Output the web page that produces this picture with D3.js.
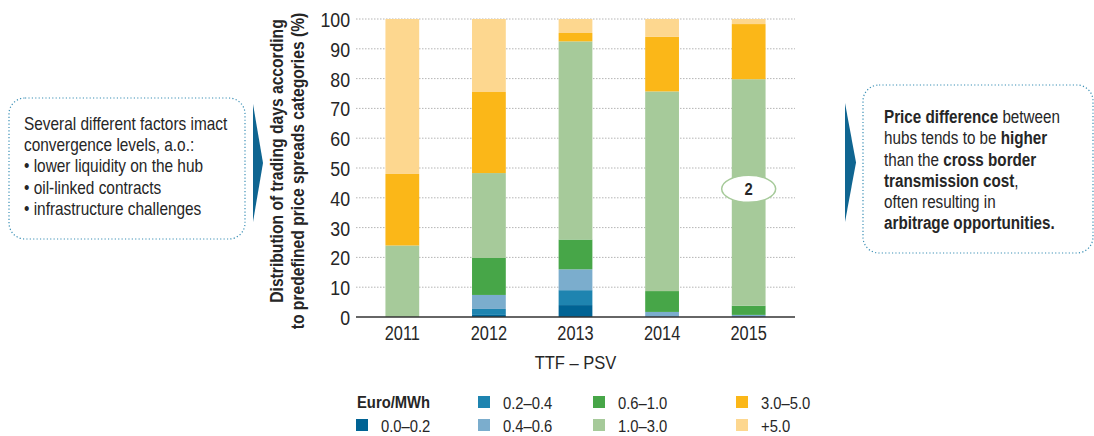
<!DOCTYPE html>
<html>
<head>
<meta charset="utf-8">
<script src="https://cdn.jsdelivr.net/npm/d3@7"></script>
<style>
  html, body { margin: 0; padding: 0; background: #fff; }
  svg { display: block; font-family: "Liberation Sans", Arial, sans-serif; }
</style>
</head>
<body>
<svg id="chart" width="1094" height="436"></svg>
<script>
// Years along the x axis
const years = ["2011", "2012", "2013", "2014", "2015"];
// Price-spread categories (Euro/MWh), bottom to top of each stack
const categories = ["0.0–0.2", "0.2–0.4", "0.4–0.6", "0.6–1.0", "1.0–3.0", "3.0–5.0", "+5.0"];
// Share of trading days (%) per category, one value per year
const share00to02 = [0, 0.7, 4.0, 0, 0];
const share02to04 = [0, 2.0, 5.0, 0, 0];
const share04to06 = [0, 4.7, 7.0, 1.7, 0.7];
const share06to10 = [0, 12.4, 10.0, 7.0, 3.1];
const share10to30 = [24, 28.5, 66.5, 67.0, 76.0];
const share30to50 = [24, 27.2, 2.8, 18.3, 18.5];
const shareAbove5 = [52, 24.5, 4.7, 6.0, 1.7];
const yTicks = [0, 10, 20, 30, 40, 50, 60, 70, 80, 90, 100];
const colors = ["#006394", "#1e84b0", "#7badcd", "#47a648", "#a6ca9a", "#fbb718", "#fdd78f"];

const seriesValues = [share00to02, share02to04, share04to06, share06to10, share10to30, share30to50, shareAbove5];
const rows = years.map((yr, i) => {
  const r = { year: yr };
  categories.forEach((c, k) => { r[c] = seriesValues[k][i]; });
  return r;
});

const svg = d3.select("#chart");
const textColor = "#262626";
// Condensed look: horizontal squeeze applied to every label
const SX = 0.87;

// Place a text element at (x, y) with a horizontal squeeze
function place(sel, x, y, rot) {
  return sel.attr("transform", `translate(${x},${y})${rot ? ` rotate(${rot})` : ""} scale(${SX},1)`);
}

const x = d3.scaleBand().domain(years).range([356, 795]).paddingInner(0.61).paddingOuter(0.34);
const y = d3.scaleLinear().domain([0, 100]).range([317, 19]);

// Dotted gridlines
svg.append("g")
  .selectAll("line")
  .data(yTicks.filter(t => t > 0))
  .join("line")
  .attr("x1", 356).attr("x2", 795)
  .attr("y1", d => y(d)).attr("y2", d => y(d))
  .attr("stroke", "#b5b5b5")
  .attr("stroke-width", 1)
  .attr("stroke-dasharray", "1.5,1.5");

// Stacked bars
const stacked = d3.stack().keys(categories)(rows);
svg.append("g")
  .selectAll("g")
  .data(stacked)
  .join("g")
  .attr("fill", (d, i) => colors[i])
  .selectAll("rect")
  .data(d => d)
  .join("rect")
  .attr("x", d => x(d.data.year))
  .attr("width", x.bandwidth())
  .attr("y", d => y(d[1]))
  .attr("height", d => y(d[0]) - y(d[1]));

// Y axis tick labels
const yAxis = d3.axisLeft(y).tickValues(yTicks).tickSize(0).tickPadding(0);
const gy = svg.append("g").attr("transform", "translate(350,0)").call(yAxis);
gy.attr("font-family", null);
gy.select(".domain").remove();
gy.selectAll("text")
  .attr("font-size", 19.5)
  .attr("fill", textColor)
  .attr("dy", "0.38em")
  .attr("transform", `scale(${SX + 0.04},1)`);

// X axis baseline and year labels
const xAxis = d3.axisBottom(x).tickSize(0).tickPadding(9);
const gx = svg.append("g").attr("transform", "translate(0,317)").call(xAxis);
gx.attr("font-family", null);
gx.select(".domain").attr("stroke", "#333").attr("stroke-width", 1.5).attr("d", "M356,0H795");
gx.selectAll("text")
  .attr("font-size", 19.5)
  .attr("fill", textColor)
  .attr("transform", `scale(${SX - 0.03},1)`);

// X axis title
place(svg.append("text"), (356 + 795) / 2, 369)
  .attr("text-anchor", "middle")
  .attr("font-size", 19)
  .attr("fill", textColor)
  .text("TTF – PSV");

// Y axis title (two lines)
const yTitle = ["Distribution of trading days according", "to predefined price spreads categories (%)"];
svg.append("g")
  .selectAll("text")
  .data(yTitle)
  .join("text")
  .each(function (d, i) { place(d3.select(this), 283 + i * 21, i === 0 ? 161 : 171, -90); })
  .attr("text-anchor", "middle")
  .attr("font-size", 18)
  .attr("font-weight", "bold")
  .attr("fill", textColor)
  .text(d => d);

// Callout marker on the 2015 bar
const markerValue = 43;
const mx = x("2015") + x.bandwidth() / 2;
svg.append("ellipse")
  .attr("cx", mx).attr("cy", y(markerValue))
  .attr("rx", 27).attr("ry", 13.5)
  .attr("fill", "#fff")
  .attr("stroke", "#a6ca9a")
  .attr("stroke-width", 1.5);
place(svg.append("text"), mx, y(markerValue) + 6)
  .attr("text-anchor", "middle")
  .attr("font-size", 17)
  .attr("font-weight", "bold")
  .attr("fill", textColor)
  .text("2");

// Legend
const legend = svg.append("g").attr("font-size", 17).attr("fill", textColor);
place(legend.append("text"), 357, 408)
  .attr("font-weight", "bold")
  .text("Euro/MWh");
const legendSlots = [
  { col: 0, row: 1 }, { col: 1, row: 0 }, { col: 1, row: 1 },
  { col: 2, row: 0 }, { col: 2, row: 1 }, { col: 3, row: 0 }, { col: 3, row: 1 }
];
const colX = [356, 478, 593, 736];
const rowY = [402, 425];
categories.forEach((c, i) => {
  const s = legendSlots[i];
  legend.append("rect")
    .attr("x", colX[s.col]).attr("y", rowY[s.row] - 6)
    .attr("width", 12).attr("height", 12)
    .attr("fill", colors[i]);
  place(legend.append("text"), colX[s.col] + 25, rowY[s.row] + 6.5)
    .text(c);
});

// Side callout boxes
function chevron(x0, yTop, yBot, w) {
  const ym = (yTop + yBot) / 2;
  svg.append("path")
    .attr("d", `M${x0},${yTop}L${x0 + w},${ym}L${x0},${yBot}Z`)
    .attr("fill", "#0f6591");
}
function box(x0, y0, w, h) {
  svg.append("rect")
    .attr("x", x0).attr("y", y0).attr("width", w).attr("height", h)
    .attr("rx", 16).attr("ry", 16)
    .attr("fill", "none")
    .attr("stroke", "#3a8fb5")
    .attr("stroke-width", 1.2)
    .attr("stroke-dasharray", "1.2,2.2");
}

box(9, 98, 236, 141);
chevron(253, 104, 222, 10);
const leftLines = [
  "Several different factors imact",
  "convergence levels, a.o.:",
  "• lower liquidity on the hub",
  "• oil-linked contracts",
  "• infrastructure challenges"
];
svg.append("g")
  .selectAll("text")
  .data(leftLines)
  .join("text")
  .each(function (d, i) { place(d3.select(this), 24, 130 + i * 21.2); })
  .attr("font-size", 17.7)
  .attr("fill", textColor)
  .text(d => d);

box(863, 85, 230, 168);
chevron(845, 103, 222, 11);
const rightLines = [
  [["Price difference", true], [" between", false]],
  [["hubs tends to be ", false], ["higher", true]],
  [["than the ", false], ["cross border", true]],
  [["transmission cost", true], [",", false]],
  [["often resulting in", false]],
  [["arbitrage opportunities.", true]]
];
const rt = svg.append("g").attr("font-size", 17.5).attr("fill", textColor);
rightLines.forEach((parts, i) => {
  const t = place(rt.append("text"), 884, 123.3 + i * 21.1);
  parts.forEach(([txt, bold]) => {
    t.append("tspan").attr("font-weight", bold ? "bold" : "normal").text(txt);
  });
});
</script>
</body>
</html>
